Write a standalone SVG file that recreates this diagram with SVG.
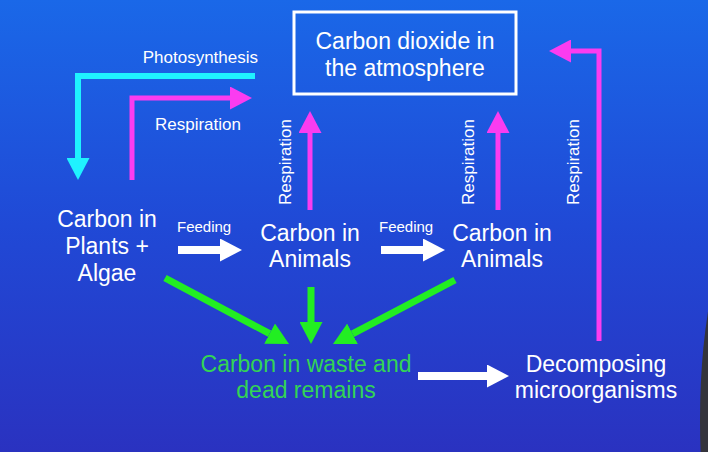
<svg xmlns="http://www.w3.org/2000/svg" width="708" height="452" viewBox="0 0 708 452">
<defs>
<linearGradient id="bg" x1="0" y1="0" x2="0" y2="1">
<stop offset="0" stop-color="#1a68e8"/>
<stop offset="0.5" stop-color="#2049d6"/>
<stop offset="1" stop-color="#2a32c0"/>
</linearGradient>
<marker id="hc" markerUnits="userSpaceOnUse" viewBox="0 0 22 23" refX="0" refY="11.5" markerWidth="22" markerHeight="23" orient="auto"><path d="M0,0 L22,11.5 L0,23 Z" fill="#1ff2ff"/></marker>
<marker id="hm" markerUnits="userSpaceOnUse" viewBox="0 0 22 23" refX="0" refY="11.5" markerWidth="22" markerHeight="23" orient="auto"><path d="M0,0 L22,11.5 L0,23 Z" fill="#fb3cf0"/></marker>
<marker id="hw" markerUnits="userSpaceOnUse" viewBox="0 0 22 23" refX="0" refY="11.5" markerWidth="22" markerHeight="23" orient="auto"><path d="M0,0 L22,11.5 L0,23 Z" fill="#ffffff"/></marker>
<marker id="hg" markerUnits="userSpaceOnUse" viewBox="0 0 22 23" refX="0" refY="11.5" markerWidth="22" markerHeight="23" orient="auto"><path d="M0,0 L22,11.5 L0,23 Z" fill="#22ee22"/></marker>
</defs>
<style>
.t{font-family:"Liberation Sans",Arial,sans-serif;font-size:23px;fill:#ffffff;text-anchor:middle}
.g{fill:#33d455}
.s{font-family:"Liberation Sans",Arial,sans-serif;font-size:17px;fill:#ffffff}
.f{font-family:"Liberation Sans",Arial,sans-serif;font-size:15px;fill:#ffffff}
.c{fill:none;stroke:#1ff2ff;stroke-width:6;marker-end:url(#hc)}
.m{fill:none;stroke:#fb3cf0;stroke-width:5;marker-end:url(#hm)}
.w{fill:none;stroke:#ffffff;stroke-width:8;marker-end:url(#hw)}
.gr{fill:none;stroke:#22ee22;stroke-width:7;marker-end:url(#hg)}
</style>
<rect width="708" height="452" fill="url(#bg)"/>
<ellipse cx="745" cy="420" rx="45" ry="190" fill="#34343c"/>

<g id="connectors">
<path class="c" d="M255,76 H78 V158"/>
<path class="m" d="M132,180 V98 H230"/>
<path class="m" d="M310,210 V133"/>
<path class="m" d="M498,210 V133"/>
<path class="m" d="M599,341 V51 H571"/>
<path class="w" d="M178,250 H220"/>
<path class="w" d="M381,250 H423"/>
<path class="w" d="M418,376 H487"/>
<path class="gr" d="M165,278 L269.6,333.7"/>
<path class="gr" d="M311,287 V322"/>
<path class="gr" d="M455,280 L352.5,333.8"/>
<text class="s" x="258" y="63" text-anchor="end">Photosynthesis</text>
<text class="s" x="198" y="130" text-anchor="middle">Respiration</text>
<text class="s" transform="translate(291,162) rotate(-90)" text-anchor="middle">Respiration</text>
<text class="s" transform="translate(474,162) rotate(-90)" text-anchor="middle">Respiration</text>
<text class="s" transform="translate(579,162) rotate(-90)" text-anchor="middle">Respiration</text>
<text class="f" x="177" y="232">Feeding</text>
<text class="f" x="379" y="232">Feeding</text>
</g>

<g id="atmosphere">
<rect x="294" y="12" width="222" height="82" fill="none" stroke="#ffffff" stroke-width="3"/>
<text class="t" x="405" y="49">Carbon dioxide in</text>
<text class="t" x="405" y="76">the atmosphere</text>
</g>
<g id="plants">
<text class="t" x="107" y="227">Carbon in</text>
<text class="t" x="107" y="254">Plants +</text>
<text class="t" x="107" y="281">Algae</text>
</g>
<g id="animals1">
<text class="t" x="310" y="241">Carbon in</text>
<text class="t" x="310" y="267">Animals</text>
</g>
<g id="animals2">
<text class="t" x="502" y="241">Carbon in</text>
<text class="t" x="502" y="267">Animals</text>
</g>
<g id="waste">
<text class="t g" x="306" y="372">Carbon in waste and</text>
<text class="t g" x="306" y="398">dead remains</text>
</g>
<g id="decomposers">
<text class="t" x="596" y="372">Decomposing</text>
<text class="t" x="596" y="398">microorganisms</text>
</g>
</svg>
